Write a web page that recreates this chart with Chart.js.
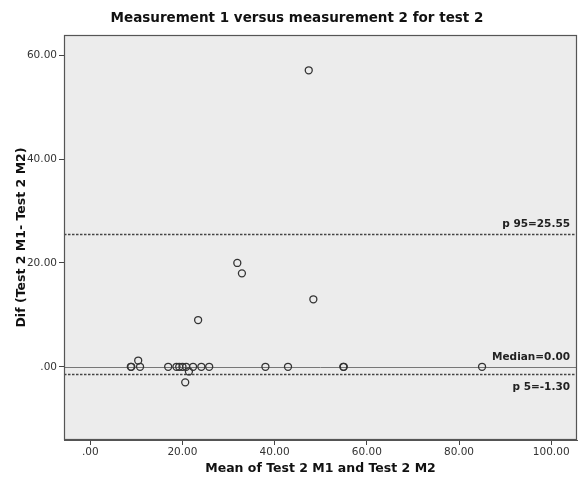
<!DOCTYPE html>
<html>
<head>
<meta charset="utf-8">
<script src="https://cdn.jsdelivr.net/npm/chart.js@4"></script>
<style>
  html, body { margin: 0; padding: 0; background: #ffffff; }
  #wrap { width: 582px; height: 482px; }
</style>
</head>
<body>
<div id="wrap"><canvas id="chart" width="582" height="482"></canvas></div>
<script>
// Bland-Altman style data: mean of M1/M2 vs difference
const meanValues = [47.4, 31.9, 32.9, 48.4, 23.4, 10.4, 21.4, 20.6,
  8.8, 8.9, 10.8, 16.9, 18.7, 19.3, 20.0, 20.8, 22.3, 24.1, 25.8, 38.0, 42.9, 54.9, 55.0, 85.0];
const diffValues = [57.1, 20.0, 18.0, 13.0, 9.0, 1.2, -0.9, -3.0,
  0, 0, 0, 0, 0, 0, 0, 0, 0, 0, 0, 0, 0, 0, 0, 0];
const refLines = [
  { value: 25.55, label: 'p 95=25.55', dashed: true, labelAbove: true },
  { value: 0.00, label: 'Median=0.00', dashed: false, labelAbove: true },
  { value: -1.30, label: 'p 5=-1.30', dashed: true, labelAbove: false }
];
const xTicks = [0, 20, 40, 60, 80, 100];
const yTicks = [0, 20, 40, 60];

const fmt = (v) => v === 0 ? '.00' : v.toFixed(2);
const FONT = "'DejaVu Sans', sans-serif";

const points = meanValues.map((m, i) => ({ x: m, y: diffValues[i] }));

// plot background + frame, reference lines, title
const decor = {
  id: 'decor',
  beforeDatasetsDraw(chart) {
    const { ctx, chartArea: a, scales: { y } } = chart;
    ctx.save();
    refLines.forEach(r => {
      const py = Math.round(y.getPixelForValue(r.value)) + 0.5;
      ctx.beginPath();
      ctx.setLineDash(r.dashed ? [2.5, 1.5] : []);
      ctx.lineWidth = r.dashed ? 1.3 : 1;
      ctx.strokeStyle = r.dashed ? '#444' : '#777';
      ctx.moveTo(a.left, py);
      ctx.lineTo(a.right, py);
      ctx.stroke();
      ctx.setLineDash([]);
      ctx.fillStyle = '#222';
      ctx.font = 'bold 10.5px ' + FONT;
      ctx.textAlign = 'right';
      ctx.textBaseline = 'middle';
      ctx.fillText(r.label, a.right - 7, r.labelAbove ? py - 10 : py + 13);
    });
    ctx.restore();
  },
  beforeDraw(chart) {
    const { ctx, chartArea: a } = chart;
    ctx.save();
    ctx.fillStyle = '#ececec';
    ctx.fillRect(a.left, a.top, a.right - a.left, a.bottom - a.top);
    ctx.restore();
  },
  afterDraw(chart) {
    const { ctx, chartArea: a } = chart;
    ctx.save();
    ctx.strokeStyle = '#555';
    ctx.lineWidth = 1.2;
    ctx.strokeRect(a.left + 0.5, a.top + 0.5, a.right - a.left - 1, a.bottom - a.top - 1);
    ctx.fillStyle = '#111';
    ctx.font = 'bold 13.5px ' + FONT;
    ctx.textAlign = 'center';
    ctx.textBaseline = 'middle';
    ctx.fillText('Measurement 1 versus measurement 2 for test 2', chart.width / 2 + 6, 18);
    ctx.restore();
  }
};

new Chart(document.getElementById('chart'), {
  type: 'scatter',
  data: {
    datasets: [{
      data: points,
      pointRadius: 3.5,
      pointHoverRadius: 3.5,
      pointBorderWidth: 1.3,
      pointBorderColor: '#333',
      pointBackgroundColor: 'rgba(0,0,0,0)'
    }]
  },
  options: {
    responsive: false,
    animation: false,
    layout: { padding: { top: 35, right: 5, left: 0, bottom: 0 } },
    plugins: { legend: { display: false }, tooltip: { enabled: false } },
    scales: {
      x: {
        type: 'linear',
        min: -5.7,
        max: 105.6,
        afterFit: (s) => { s.height = 42; },
        afterBuildTicks: (s) => { s.ticks = xTicks.map(v => ({ value: v })); },
        grid: { drawOnChartArea: false, drawTicks: true, tickLength: 5, color: '#444' },
        border: { display: true, color: '#555' },
        ticks: { padding: 1, color: '#333', font: { family: FONT, size: 10.5 }, callback: fmt, maxRotation: 0, autoSkip: false },
        title: { display: true, text: 'Mean of Test 2 M1 and Test 2 M2', color: '#111',
          font: { family: FONT, size: 12.5, weight: 'bold' }, padding: { top: 0, bottom: 6 } }
      },
      y: {
        type: 'linear',
        min: -14.1,
        max: 63.9,
        afterFit: (s) => { s.width = 64; },
        afterBuildTicks: (s) => { s.ticks = yTicks.map(v => ({ value: v })); },
        grid: { drawOnChartArea: false, drawTicks: true, tickLength: 5, color: '#444' },
        border: { display: true, color: '#555' },
        ticks: { padding: 2, color: '#333', font: { family: FONT, size: 10.5 }, callback: fmt, autoSkip: false },
        title: { display: true, text: 'Dif (Test 2 M1- Test 2 M2)', color: '#111',
          font: { family: FONT, size: 12.5, weight: 'bold' }, padding: { top: 14, bottom: 0 } }
      }
    }
  },
  plugins: [decor]
});
</script>
</body>
</html>
